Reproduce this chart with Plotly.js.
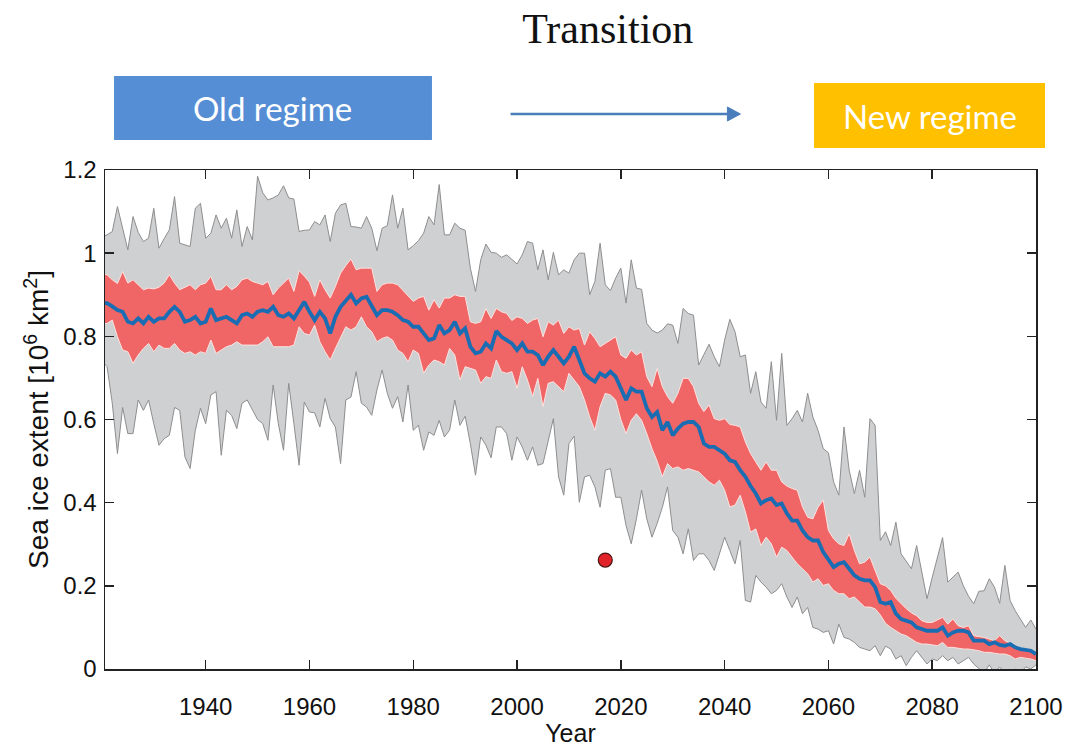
<!DOCTYPE html>
<html>
<head>
<meta charset="utf-8">
<script src="https://cdn.plot.ly/plotly-3.0.1.min.js"></script>
<style>
html,body{margin:0;padding:0;background:#fff;}
#chart{width:1077px;height:747px;}
</style>
</head>
<body>
<div id="chart"></div>
<script>
// Years 1920..2100 (one value per year)
const startYear = 1920, endYear = 2100;
const years = [];
for (let y = startYear; y <= endYear; y++) years.push(y);

// Upper edge of the full ensemble range (grey)
const greyUpper = [
  1.04, 1.044, 1.052, 1.112, 1.06, 1.008, 1.088, 1.05, 1.028, 1.036,
  1.108, 1.012, 1.035, 1.056, 1.136, 1.024, 1.02, 1.016, 1.108, 1.12,
  1.036, 1.048, 1.092, 1.06, 1.084, 1.036, 1.104, 1.016, 1.064, 1.032,
  1.185, 1.145, 1.128, 1.133, 1.14, 1.162, 1.133, 1.13, 1.052, 1.055,
  1.056, 1.076, 1.068, 1.092, 1.028, 1.096, 1.116, 1.12, 1.064, 1.063,
  1.06, 1.088, 1.06, 1.006, 1.06, 1.066, 1.14, 1.06, 1.108, 1.008,
  1.018, 1.03, 1.048, 1.088, 1.068, 1.165, 1.044, 1.044, 1.072, 1.06,
  1.055, 0.964, 0.908, 0.984, 1.022, 1.002, 1.0, 0.99, 0.996, 0.986,
  0.974, 0.996, 1.028, 1.024, 0.96, 1.008, 0.936, 1.002, 0.948, 0.96,
  0.952, 0.984, 1.0, 1.0, 0.9, 0.932, 1.024, 0.924, 0.91, 0.94,
  0.964, 0.88, 0.984, 0.916, 0.913, 0.831, 0.815, 0.808, 0.815, 0.83,
  0.827, 0.783, 0.867, 0.855, 0.851, 0.731, 0.757, 0.781, 0.751, 0.727,
  0.791, 0.841, 0.811, 0.751, 0.755, 0.663, 0.715, 0.642, 0.627, 0.739,
  0.598, 0.759, 0.586, 0.602, 0.622, 0.594, 0.663, 0.606, 0.574, 0.53,
  0.52, 0.45, 0.418, 0.582, 0.478, 0.422, 0.478, 0.413, 0.602, 0.586,
  0.309, 0.33, 0.297, 0.353, 0.277, 0.26, 0.241, 0.297, 0.237, 0.169,
  0.22, 0.265, 0.316, 0.209, 0.222, 0.233, 0.2, 0.175, 0.157, 0.187,
  0.188, 0.217, 0.197, 0.158, 0.249, 0.165, 0.14, 0.12, 0.1, 0.118,
  0.096
];

// Lower edge of the full ensemble range (grey)
const greyLower = [
  0.74, 0.727, 0.639, 0.518, 0.629, 0.566, 0.566, 0.647, 0.622, 0.647,
  0.59, 0.538, 0.554, 0.562, 0.629, 0.622, 0.51, 0.482, 0.574, 0.627,
  0.59, 0.659, 0.667, 0.514, 0.622, 0.61, 0.578, 0.639, 0.647, 0.622,
  0.6, 0.59, 0.55, 0.683, 0.59, 0.526, 0.687, 0.59, 0.49, 0.642,
  0.618, 0.616, 0.582, 0.651, 0.602, 0.582, 0.494, 0.647, 0.654, 0.715,
  0.639, 0.63, 0.61, 0.671, 0.719, 0.663, 0.627, 0.655, 0.594, 0.683,
  0.574, 0.586, 0.526, 0.57, 0.562, 0.598, 0.558, 0.574, 0.647, 0.586,
  0.608, 0.542, 0.466, 0.558, 0.538, 0.508, 0.582, 0.582, 0.566, 0.502,
  0.558, 0.534, 0.502, 0.534, 0.49, 0.494, 0.55, 0.602, 0.462, 0.418,
  0.542, 0.56, 0.401, 0.462, 0.466, 0.438, 0.389, 0.478, 0.482, 0.413,
  0.413, 0.345, 0.301, 0.361, 0.43, 0.361, 0.317, 0.35, 0.389, 0.438,
  0.333, 0.317, 0.277, 0.337, 0.261, 0.277, 0.277, 0.261, 0.237, 0.277,
  0.317, 0.285, 0.253, 0.309, 0.165, 0.161, 0.225, 0.209, 0.197, 0.181,
  0.189, 0.205, 0.173, 0.148, 0.173, 0.133, 0.148, 0.1, 0.096, 0.088,
  0.092, 0.06, 0.108, 0.076, 0.072, 0.064, 0.052, 0.048, 0.044, 0.056,
  0.032, 0.055, 0.048, 0.024, 0.032, 0.008, 0.028, 0.044, 0.028, 0.012,
  0.024, 0.02, 0.032, 0.02, 0.028, 0.012, 0.02, 0.028, 0.012, 0.0,
  -0.01, 0.01, -0.01, 0.005, -0.01, -0.02, 0.0, -0.01, 0.005, 0.0,
  0.01
];

// Upper edge of the inner spread (red)
const redUpper = [
  0.95, 0.948, 0.936, 0.927, 0.956, 0.928, 0.936, 0.924, 0.912, 0.916,
  0.914, 0.918, 0.928, 0.948, 0.928, 0.912, 0.918, 0.924, 0.912, 0.924,
  0.928, 0.944, 0.912, 0.912, 0.924, 0.912, 0.92, 0.936, 0.94, 0.932,
  0.928, 0.924, 0.932, 0.9, 0.916, 0.928, 0.94, 0.908, 0.958, 0.945,
  0.93, 0.896, 0.936, 0.912, 0.892, 0.92, 0.952, 0.97, 0.986, 0.96,
  0.964, 0.964, 0.964, 0.908, 0.924, 0.928, 0.928, 0.924, 0.91, 0.896,
  0.884, 0.892, 0.896, 0.863, 0.888, 0.868, 0.892, 0.892, 0.9, 0.896,
  0.896, 0.835, 0.831, 0.835, 0.867, 0.843, 0.867, 0.859, 0.855, 0.838,
  0.847, 0.843, 0.831, 0.839, 0.843, 0.799, 0.835, 0.827, 0.839, 0.807,
  0.823, 0.815, 0.819, 0.779, 0.811, 0.795, 0.775, 0.783, 0.79, 0.799,
  0.755, 0.747, 0.767, 0.755, 0.763, 0.703, 0.679, 0.723, 0.679, 0.655,
  0.639, 0.663, 0.699, 0.699, 0.679, 0.639, 0.619, 0.635, 0.602, 0.598,
  0.602, 0.588, 0.586, 0.582, 0.546, 0.518, 0.498, 0.478, 0.498, 0.478,
  0.478, 0.45, 0.44, 0.434, 0.43, 0.39, 0.365, 0.361, 0.389, 0.406,
  0.333, 0.313, 0.301, 0.297, 0.325, 0.285, 0.253, 0.257, 0.269, 0.237,
  0.205, 0.2, 0.189, 0.17, 0.157, 0.145, 0.135, 0.128, 0.116, 0.112,
  0.112, 0.118, 0.124, 0.108, 0.12, 0.104, 0.1, 0.104, 0.08, 0.078,
  0.076, 0.072, 0.068, 0.08, 0.068, 0.062, 0.056, 0.052, 0.044, 0.042,
  0.04
];

// Lower edge of the inner spread (red)
const redLower = [
  0.83, 0.831, 0.839, 0.799, 0.767, 0.763, 0.735, 0.755, 0.771, 0.783,
  0.763, 0.779, 0.771, 0.771, 0.783, 0.767, 0.759, 0.763, 0.755, 0.763,
  0.759, 0.791, 0.759, 0.767, 0.775, 0.779, 0.787, 0.779, 0.779, 0.779,
  0.779, 0.787, 0.799, 0.775, 0.775, 0.775, 0.775, 0.779, 0.823, 0.807,
  0.803, 0.827, 0.787, 0.763, 0.743, 0.771, 0.799, 0.823, 0.815, 0.823,
  0.847, 0.823, 0.811, 0.787, 0.795, 0.799, 0.791, 0.767, 0.759, 0.739,
  0.767, 0.759, 0.711, 0.731, 0.743, 0.739, 0.731, 0.771, 0.755, 0.695,
  0.727, 0.723, 0.719, 0.687, 0.703, 0.699, 0.743, 0.715, 0.711, 0.715,
  0.675, 0.727, 0.695, 0.655, 0.699, 0.631, 0.687, 0.691, 0.679, 0.667,
  0.711, 0.695, 0.679, 0.647, 0.606, 0.574, 0.631, 0.663, 0.659, 0.647,
  0.6, 0.566, 0.598, 0.614, 0.598, 0.566, 0.53, 0.5, 0.462, 0.494,
  0.482, 0.486, 0.478, 0.482, 0.478, 0.474, 0.462, 0.45, 0.442, 0.454,
  0.43, 0.39, 0.394, 0.418, 0.378, 0.329, 0.337, 0.297, 0.317, 0.301,
  0.269, 0.293, 0.285, 0.269, 0.253, 0.241, 0.229, 0.209, 0.217, 0.201,
  0.205, 0.189, 0.181, 0.181, 0.169, 0.173, 0.161, 0.149, 0.149, 0.145,
  0.13, 0.11, 0.1, 0.092, 0.084, 0.08, 0.072, 0.064, 0.06, 0.06,
  0.058, 0.056, 0.064, 0.052, 0.052, 0.05, 0.048, 0.048, 0.046, 0.044,
  0.04, 0.04, 0.038, 0.036, 0.036, 0.032, 0.024, 0.028, 0.026, 0.024,
  0.02
];

// Ensemble mean (blue)
const meanExtent = [
  0.88, 0.88, 0.872, 0.863, 0.859, 0.835, 0.831, 0.843, 0.831, 0.847,
  0.835, 0.843, 0.843, 0.859, 0.871, 0.859, 0.835, 0.839, 0.847, 0.831,
  0.835, 0.867, 0.839, 0.843, 0.847, 0.839, 0.831, 0.851, 0.855, 0.847,
  0.859, 0.863, 0.859, 0.871, 0.851, 0.847, 0.855, 0.843, 0.863, 0.883,
  0.859, 0.839, 0.859, 0.843, 0.807, 0.847, 0.871, 0.887, 0.9, 0.879,
  0.891, 0.895, 0.871, 0.851, 0.863, 0.863, 0.859, 0.851, 0.839, 0.835,
  0.823, 0.823, 0.807, 0.791, 0.795, 0.827, 0.807, 0.815, 0.835, 0.807,
  0.819, 0.775, 0.759, 0.763, 0.783, 0.771, 0.813, 0.799, 0.791, 0.783,
  0.767, 0.783, 0.763, 0.763, 0.755, 0.731, 0.751, 0.767, 0.751, 0.735,
  0.751, 0.775, 0.743, 0.711, 0.699, 0.691, 0.711, 0.703, 0.715, 0.703,
  0.675, 0.647, 0.675, 0.667, 0.667, 0.627, 0.606, 0.618, 0.574, 0.594,
  0.562, 0.578, 0.59, 0.594, 0.594, 0.582, 0.542, 0.534, 0.534, 0.526,
  0.518, 0.502, 0.498, 0.478, 0.462, 0.44, 0.422, 0.398, 0.406, 0.41,
  0.394, 0.398, 0.374, 0.357, 0.357, 0.333, 0.317, 0.309, 0.309, 0.281,
  0.261, 0.245, 0.253, 0.257, 0.241, 0.225, 0.217, 0.213, 0.213, 0.197,
  0.161, 0.157, 0.161, 0.133, 0.12, 0.115, 0.112, 0.1, 0.096, 0.092,
  0.092, 0.092, 0.1, 0.08, 0.088, 0.092, 0.092, 0.088, 0.068, 0.068,
  0.068, 0.06, 0.064, 0.058, 0.056, 0.06, 0.052, 0.048, 0.046, 0.044,
  0.036
];

// Observed value (red dot)
const obsYear = [2017];
const obsExtent = [0.262];

const xTicks = [1940, 1960, 1980, 2000, 2020, 2040, 2060, 2080, 2100];
const yTicks = [0, 0.2, 0.4, 0.6, 0.8, 1, 1.2];
const yTickText = ['0', '0.2', '0.4', '0.6', '0.8', '1', '1.2'];

const traces = [
  {x: years, y: greyLower, type: 'scatter', mode: 'lines',
   line: {color: '#8e8e8e', width: 1}, hoverinfo: 'skip', showlegend: false},
  {x: years, y: greyUpper, type: 'scatter', mode: 'lines', fill: 'tonexty',
   fillcolor: '#cfd0d2', line: {color: '#8e8e8e', width: 1}, hoverinfo: 'skip', showlegend: false},
  {x: years, y: redLower, type: 'scatter', mode: 'lines',
   line: {color: '#fde2df', width: 1}, hoverinfo: 'skip', showlegend: false},
  {x: years, y: redUpper, type: 'scatter', mode: 'lines', fill: 'tonexty',
   fillcolor: '#f06666', line: {color: '#fde2df', width: 1}, hoverinfo: 'skip', showlegend: false},
  {x: years, y: meanExtent, type: 'scatter', mode: 'lines',
   line: {color: '#1b6db3', width: 3.8}, showlegend: false},
  {x: obsYear, y: obsExtent, type: 'scatter', mode: 'markers',
   marker: {color: '#e3232a', size: 14, line: {color: '#4a1515', width: 1.2}}, showlegend: false}
];

const axisFont = {family: 'Liberation Sans, Arial, sans-serif', size: 24, color: '#111'};

// Arrow geometry in paper units (plot area: 931 x 499 px)
const arrowY = 1.1122, arrowX0 = 0.4356, arrowX1 = 0.6825;
const headLen = 13 / 931, headHalf = 7 / 499;

const layout = {
  width: 1077, height: 747,
  margin: {l: 105, r: 41, t: 170, b: 78, pad: 0},
  paper_bgcolor: '#ffffff', plot_bgcolor: '#ffffff',
  font: {family: 'Liberation Sans, Arial, sans-serif', color: '#111'},
  title: {text: 'Transition', font: {family: 'Liberation Serif, DejaVu Serif, serif', size: 42, color: '#111'},
          xref: 'paper', x: 0.54, xanchor: 'center', yref: 'container', y: 0.962, yanchor: 'middle'},
  xaxis: {
    range: [1920.6, 2100], tickvals: xTicks, ticktext: xTicks.map(String),
    showgrid: false, zeroline: false, showline: true, linecolor: '#222', linewidth: 1.5,
    mirror: 'ticks', ticks: 'inside', ticklen: 9, tickwidth: 1.5, tickcolor: '#222',
    tickfont: axisFont, ticklabelstandoff: 16,
    title: {text: 'Year', font: {family: 'Liberation Sans, Arial, sans-serif', size: 25, color: '#111'}, standoff: 8}
  },
  yaxis: {
    range: [0, 1.2], tickvals: yTicks, ticktext: yTickText,
    showgrid: false, zeroline: false, showline: true, linecolor: '#222', linewidth: 1.5,
    mirror: 'ticks', ticks: 'inside', ticklen: 9, tickwidth: 1.5, tickcolor: '#222',
    tickfont: axisFont, ticklabelstandoff: 2,
    title: {text: 'Sea ice extent [10<sup>6</sup> km<sup>2</sup>]', font: {family: 'Liberation Sans, Arial, sans-serif', size: 28, color: '#111'}, standoff: 6}
  },
  shapes: [
    {type: 'rect', xref: 'paper', yref: 'paper', x0: 0.0097, x1: 0.3512, y0: 1.0601, y1: 1.1884,
     fillcolor: '#558ed5', line: {width: 0}},
    {type: 'rect', xref: 'paper', yref: 'paper', x0: 0.7616, x1: 1.0097, y0: 1.0441, y1: 1.1743,
     fillcolor: '#ffc000', line: {width: 0}},
    {type: 'line', xref: 'paper', yref: 'paper', x0: arrowX0, x1: arrowX1 - headLen, y0: arrowY, y1: arrowY,
     line: {color: '#4a7ebb', width: 2.5}},
    {type: 'path', xref: 'paper', yref: 'paper',
     path: 'M ' + (arrowX1 - headLen) + ' ' + (arrowY + headHalf) + ' L ' + arrowX1 + ' ' + arrowY +
           ' L ' + (arrowX1 - headLen) + ' ' + (arrowY - headHalf) + ' Z',
     fillcolor: '#4a7ebb', line: {color: '#4a7ebb', width: 1}}
  ],
  annotations: [
    {text: 'Old regime', xref: 'paper', yref: 'paper', x: 0.1804, y: 1.1242, showarrow: false,
     xanchor: 'center', yanchor: 'middle', font: {family: 'Lato, Noto Sans, sans-serif', size: 33, color: '#ffffff'}},
    {text: 'New regime', xref: 'paper', yref: 'paper', x: 0.8861, y: 1.1082, showarrow: false,
     xanchor: 'center', yanchor: 'middle', font: {family: 'Lato, Noto Sans, sans-serif', size: 33, color: '#ffffff'}}
  ]
};

Plotly.newPlot('chart', traces, layout, {displayModeBar: false, staticPlot: true});
</script>
</body>
</html>
